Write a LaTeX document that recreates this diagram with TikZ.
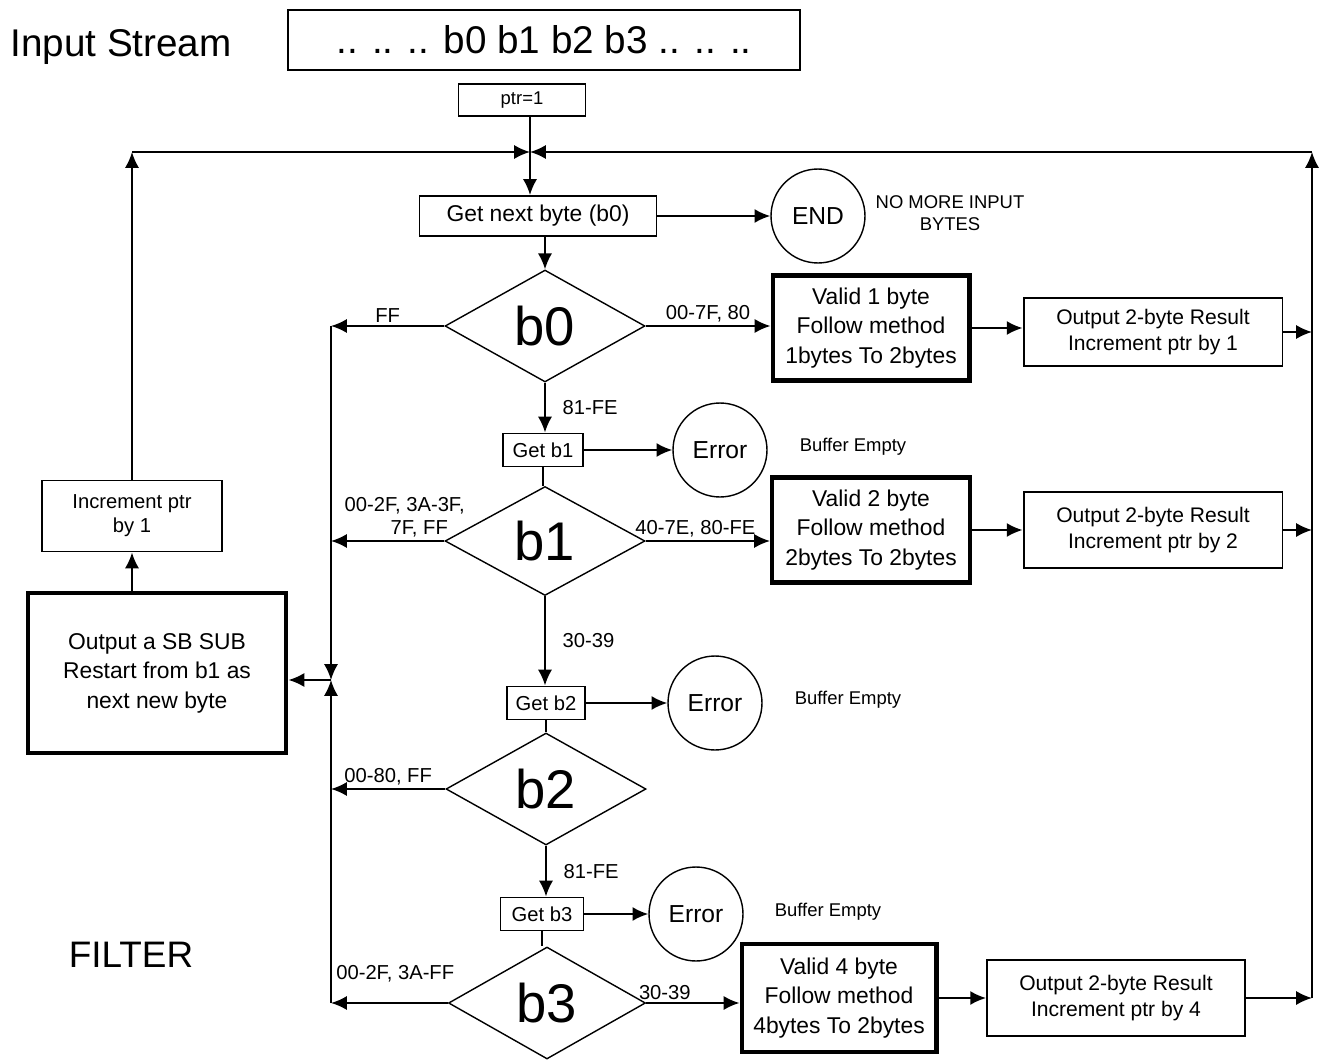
\documentclass[tikz,border=0pt]{standalone}
\usepackage{fontspec}
\setmainfont{Liberation Sans}
\usetikzlibrary{shapes.geometric,arrows.meta,calc}
\newcommand{\fsz}[2]{\fontsize{#1}{#2}\selectfont}
\begin{document}
\begin{tikzpicture}[x=0.02cm,y=-0.02cm,
  arr/.style={-{Latex[length=9pt,width=8pt]}, line width=1.1pt},
  conn/.style={line width=1.1pt},
  box/.style={draw, line width=1.1pt, inner sep=0pt, align=center},
  bigbox/.style={draw, line width=2.3pt, inner sep=0pt, align=center, font=\fsz{13}{16.8}},
  outbox/.style={box, minimum width=5.18cm, font=\fsz{12}{14.8}},
  getbox/.style={box, minimum height=0.66cm, font=\fsz{11.5}{14}},
  dec/.style={draw, diamond, line width=0.8pt, inner sep=0pt, minimum width=4cm, minimum height=2.24cm, font=\fsz{31}{34}},
  term/.style={draw, circle, line width=0.8pt, minimum size=1.88cm, inner sep=0pt, font=\fsz{14}{16}},
  lbl/.style={font=\fsz{11.5}{13.5}, inner sep=1.5pt, align=center},
  note/.style={font=\fsz{10.5}{12.5}, align=center}
]
\useasboundingbox (0,0) rectangle (1329,1061);

% titles
\node[font=\fsz{22}{26}] (title) at (121,47) {Input Stream};
\node[font=\fsz{21}{25}] (filter) at (131,955) {FILTER};

% input stream and pointer
\node[box, minimum width=10.24cm, minimum height=1.2cm, font=\fsz{22}{26}] (stream) at (544,40) {.. .. .. b0 b1 b2 b3 .. .. ..};
\node[box, minimum width=2.54cm, minimum height=0.64cm, font=\fsz{10.5}{12}] (ptr) at (522,100) {ptr=1};

% bus junctions and corners
\coordinate (jt) at (530,152);
\coordinate (ctl) at (132,152);
\coordinate (ctr) at (1312,152);
\coordinate (jl) at (331,680);

% main column
\node[box, minimum width=4.74cm, minimum height=0.8cm, font=\fsz{13}{16}] (next) at (538,216) {Get next byte (b0)};
\node[term] (endc) at (818,216) {END};
\node[note] (nomore) at (950,213) {NO MORE INPUT\\BYTES};

\node[dec] (d0) at (545,326) {b0};
\node[bigbox, minimum width=3.94cm, minimum height=2.1cm] (v1) at (871,328) {Valid 1 byte\\Follow method\\1bytes To 2bytes};
\node[outbox, minimum height=1.36cm] (o1) at (1153,332) {Output 2-byte Result\\Increment ptr by 1};

\node[getbox, minimum width=1.6cm] (gb1) at (543,450) {Get b1};
\node[term] (e1) at (720,450) {Error};
\node[note] (be1) at (853,447) {Buffer Empty};

\node[dec, minimum height=2.18cm] (d1) at (545,541) {b1};
\node[bigbox, minimum width=3.96cm, minimum height=2.1cm] (v2) at (871,530) {Valid 2 byte\\Follow method\\2bytes To 2bytes};
\node[outbox, minimum height=1.52cm] (o2) at (1153,530) {Output 2-byte Result\\Increment ptr by 2};

\node[getbox, minimum width=1.56cm] (gb2) at (546,703) {Get b2};
\node[term] (e2) at (715,703) {Error};
\node[note] (be2) at (848,700) {Buffer Empty};

\node[dec] (d2) at (546,789) {b2};

\node[getbox, minimum width=1.66cm] (gb3) at (542,914) {Get b3};
\node[term] (e3) at (696,914) {Error};
\node[note] (be3) at (828,912) {Buffer Empty};

\node[dec, minimum width=3.94cm] (d3) at (547,1003) {b3};
\node[bigbox, minimum width=3.9cm, minimum height=2.16cm] (v4) at (839,998) {Valid 4 byte\\Follow method\\4bytes To 2bytes};
\node[outbox, minimum width=5.16cm, minimum height=1.52cm] (o4) at (1116,998) {Output 2-byte Result\\Increment ptr by 4};

% left recovery column
\node[bigbox, minimum width=5.18cm, minimum height=3.2cm] (sb) at (157,673) {Output a SB SUB\\Restart from b1 as\\next new byte};
\node[box, minimum width=3.6cm, minimum height=1.42cm, font=\fsz{11.5}{13.5}] (inc) at (132,516) {Increment ptr\\by 1};

% entry from the pointer
\draw[conn] (ptr.south -| jt) -- (jt);
\draw[arr] (jt) -- (jt |- next.north);

% main column connectors
\draw[arr] (next.east) -- (endc.west);
\draw[arr] (d0.north |- next.south) -- (d0.north);
\draw[arr] (d0.south) -- node[lbl, right, xshift=8pt] {81-FE} (d0.south |- gb1.north);
\draw[arr] (gb1.east) -- (gb1.east -| e1.west);
\draw[conn] (gb1.south) -- (gb1.south |- d1.north);
\draw[arr] (d1.south) -- node[lbl, right, xshift=8pt] {30-39} (d1.south |- gb2.north);
\draw[arr] (gb2.east) -- (gb2.east -| e2.west);
\draw[conn] (gb2.south) -- (gb2.south |- d2.north);
\draw[arr] (d2.south) -- node[lbl, right, xshift=8pt] {81-FE} (d2.south |- gb3.north);
\draw[arr] (gb3.east) -- (gb3.east -| e3.west);
\draw[conn] (gb3.south) -- (gb3.south |- d3.north);

% valid branches
\draw[arr] (d0.east) -- node[lbl, above] {00-7F, 80} (d0.east -| v1.west);
\draw[arr] (v1.east) -- (v1.east -| o1.west);
\draw[arr] (d1.east) -- node[lbl, above, pos=0.4] {40-7E, 80-FE} (d1.east -| v2.west);
\draw[arr] (v2.east) -- (v2.east -| o2.west);
\draw[arr] (d3.east) -- node[lbl, above, pos=0.2] {30-39} (d3.east -| v4.west);
\draw[arr] (v4.east) -- (v4.east -| o4.west);

% right return bus
\draw[arr] (o1.east) -- (o1.east -| ctr);
\draw[arr] (o2.east) -- (o2.east -| ctr);
\draw[arr] (o4.east) -- (o4.east -| ctr);
\draw[arr] (o4.east -| ctr) -- (ctr);
\draw[arr] (ctr) -- (jt);

% invalid branches to the left bus
\draw[arr] (d0.west) -- node[lbl, above] {FF} (d0.west -| jl);
\draw[arr] (d1.west) -- node[lbl, above, pos=0.35] {00-2F, 3A-3F,\\\hphantom{00-}7F, FF} (d1.west -| jl);
\draw[arr] (d2.west) -- node[lbl, above] {00-80, FF} (d2.west -| jl);
\draw[arr] (d3.west) -- node[lbl, above, yshift=10pt, pos=0.45] {00-2F, 3A-FF} (d3.west -| jl);
\draw[arr] (d0.west -| jl) -- (jl);
\draw[arr] (d3.west -| jl) -- (jl);
\draw[arr] (jl) -- (jl -| sb.east);

% left return bus
\draw[arr] (inc.south |- sb.north) -- (inc.south);
\draw[arr] (inc.north) -- (ctl);
\draw[arr] (ctl) -- (jt);
\end{tikzpicture}
\end{document}
